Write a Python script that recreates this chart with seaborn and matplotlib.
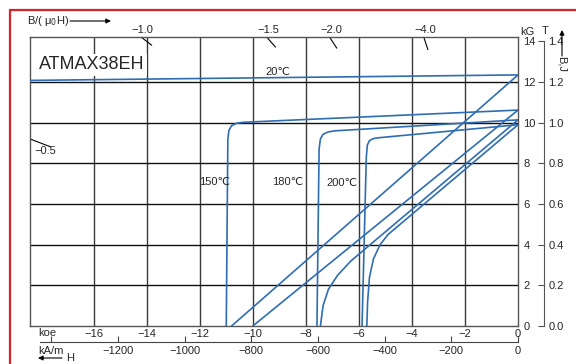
import matplotlib
matplotlib.use("Agg")
import numpy as np
import pandas as pd
import matplotlib.pyplot as plt
import seaborn as sns
from matplotlib.lines import Line2D

# ---- data (H in kOe, B/J in kG) ----
h_ticks = [-16, -14, -12, -10, -8, -6, -4, -2, 0]
b_ticks = [0, 2, 4, 6, 8, 10, 12, 14]
t_ticks = [0.0, 0.2, 0.4, 0.6, 0.8, 1.0, 1.2, 1.4]
kam_ticks = [-1400, -1200, -1000, -800, -600, -400, -200, 0]
permeance_top = [1.0, 1.5, 2.0, 4.0]
permeance_left = [0.5]

# 20 C
h_20_j = [-18.4, 0.0]
b_20_j = [12.08, 12.35]
h_20_b = [-10.8, 0.0]
b_20_b = [0.0, 12.35]
# 150 C
h_150_j = [-11.0, -10.94, -10.9, -10.8, -10.62, -10.36, 0.0]
b_150_j = [0.0, 9.2, 9.62, 9.85, 9.97, 10.02, 10.62]
h_150_b = [-10.0, 0.0]
b_150_b = [0.0, 10.62]
# 180 C
h_180_j = [-7.58, -7.5, -7.45, -7.35, -7.15, -6.9, 0.0]
b_180_j = [0.0, 8.7, 9.2, 9.43, 9.55, 9.6, 10.14]
h_180_b = [-7.45, -7.35, -7.15, -6.8, -6.3, 0.0]
b_180_b = [0.0, 1.0, 1.8, 2.5, 3.2, 10.14]
# 200 C
h_200_j = [-5.88, -5.72, -5.68, -5.6, -5.45, -5.25, 0.0]
b_200_j = [0.0, 8.3, 8.9, 9.12, 9.22, 9.26, 9.9]
h_200_b = [-5.7, -5.67, -5.6, -5.45, -5.2, -4.9, 0.0]
b_200_b = [0.0, 1.2, 2.4, 3.3, 4.0, 4.5, 9.9]

curves = {
    "20J": (h_20_j, b_20_j), "20B": (h_20_b, b_20_b),
    "150J": (h_150_j, b_150_j), "150B": (h_150_b, b_150_b),
    "180J": (h_180_j, b_180_j), "180B": (h_180_b, b_180_b),
    "200J": (h_200_j, b_200_j), "200B": (h_200_b, b_200_b),
}
df = pd.concat([pd.DataFrame({"H": h, "B": b, "curve": k})
                for k, (h, b) in curves.items()], ignore_index=True)

# ---- style ----
sns.set_style("white")
plt.rcParams["font.family"] = ["Liberation Sans", "DejaVu Sans"]
plt.rcParams["axes.unicode_minus"] = True

W, H = 576, 364
def fx(x):
    return x / W
def fy(y):
    return 1 - y / H

blue = "#2f6db3"
grid_c = "#3a3a3a"
XMIN, YMAX = -18.4, 14.2

fig = plt.figure(figsize=(W / 100, H / 100), dpi=100)
ax_l, ax_r, ax_t, ax_b = 30, 518, 37.3, 326
ax = fig.add_axes([fx(ax_l), fy(ax_b), (ax_r - ax_l) / W, (ax_b - ax_t) / H])

for h in h_ticks[:-1]:
    ax.axvline(h, color=grid_c, lw=1.0, zorder=1)
for b in b_ticks[1:-1]:
    ax.axhline(b, color="#111111", lw=1.0, zorder=1)

sns.lineplot(data=df, x="H", y="B", units="curve", estimator=None, sort=False,
             color=blue, lw=1.2, ax=ax, zorder=3)

ax.set_xlim(XMIN, 0)
ax.set_ylim(0, YMAX)
ax.set_xlabel("")
ax.set_ylabel("")
for s in ax.spines.values():
    s.set_color("#555555")
    s.set_linewidth(1.0)

ax.set_xticks(h_ticks)
ax.tick_params(axis="x", length=0, pad=2, labelsize=8)

# T axis
ax2 = ax.twinx()
ax2.set_ylim(0, YMAX / 10)
for k in ["left", "top", "bottom"]:
    ax2.spines[k].set_visible(False)
ax2.spines["right"].set_position(("outward", 19))
ax2.spines["right"].set_bounds(0, 1.4)
ax2.spines["right"].set_color("#555555")
ax2.set_yticks(t_ticks)
ax2.set_yticklabels([f"{t:.1f}" for t in t_ticks])
ax2.tick_params(axis="y", direction="in", length=4, pad=3, labelsize=8, color="#555555")

ax.yaxis.tick_right()
ax.set_yticks(b_ticks)
ax.tick_params(axis="y", length=0, pad=4, labelsize=8, labelleft=False, labelright=True)

# kA/m axis
sec = ax.secondary_xaxis(-(342 - ax_b) / (ax_b - ax_t),
                         functions=(lambda h: h * 79.577, lambda k: k / 79.577))
sec.set_xticks(kam_ticks)
sec.set_xticklabels(["" if v == -1400 else str(v).replace("-", "\u2212") for v in kam_ticks])
sec.tick_params(direction="in", length=4, pad=3, labelsize=8, color="#444444")
sec.spines["bottom"].set_color("#444444")
sec.spines["bottom"].set_bounds(-1434, 0)

# permeance marks
ppx = (ax_r - ax_l) / -XMIN
ppy = (ax_b - ax_t) / YMAX
for p in permeance_top:
    h0 = -YMAX / p
    d = 13 / np.hypot(ppx, p * ppy)
    ax.plot([h0, h0 + d], [YMAX, YMAX - p * d], color="black", lw=0.8, clip_on=False)
    ax.annotate(f"\u2212{p:.1f}", (h0, YMAX), xytext=(1, 1.5), textcoords="offset points",
                ha="center", va="bottom", fontsize=8)
for p in permeance_left:
    b0 = -p * XMIN
    d = 22 / np.hypot(ppx, p * ppy)
    ax.plot([XMIN, XMIN + d], [b0, b0 - p * d], color="black", lw=0.8)
    ax.annotate(f"\u2212{p:.1f}", (XMIN, b0), xytext=(11, -9), textcoords="offset points",
                ha="center", va="center", fontsize=8)

# labels
ax.text(XMIN + 0.35, 12.85, "ATMAX38EH", fontsize=13, va="center", ha="left",
        bbox=dict(facecolor="white", edgecolor="none", pad=2), zorder=4)
for t, h, b in [("20\u2103", -9.05, 12.49), ("150\u2103", -11.45, 7.1),
                ("180\u2103", -8.69, 7.1), ("200\u2103", -6.64, 7.02)]:
    ax.text(h, b, t, fontsize=8, ha="center", va="center", zorder=4)

fig.text(fx(527), fy(32), "kG", fontsize=8, ha="center", va="center")
fig.text(fx(545), fy(31), "T", fontsize=8, ha="center", va="center")
fig.text(fx(27), fy(21), r"B/( μ$_{\rm 0}$H)", fontsize=8, ha="left", va="center")
fig.text(fx(38), fy(333), "koe", fontsize=8, ha="left", va="center")
fig.text(fx(38), fy(351), "kA/m", fontsize=8, ha="left", va="center")
fig.text(fx(66), fy(358), "H", fontsize=8, ha="left", va="center")
fig.text(fx(562), fy(64), "B,J", fontsize=8, ha="center", va="center", rotation=-90)

arrow = dict(arrowstyle="-|>", lw=0.8, color="black", mutation_scale=7, shrinkA=0, shrinkB=0)
fig.add_artist(matplotlib.patches.FancyArrowPatch((fx(70), fy(21)), (fx(111), fy(21)),
               transform=fig.transFigure, **arrow))
fig.add_artist(matplotlib.patches.FancyArrowPatch((fx(62), fy(358)), (fx(38), fy(358)),
               transform=fig.transFigure, **arrow))
fig.add_artist(matplotlib.patches.FancyArrowPatch((fx(562), fy(56)), (fx(562), fy(30)),
               transform=fig.transFigure, **arrow))

# red frame
red = "#d8232a"
fig.add_artist(Line2D([fx(9.5), fx(9.5)], [0, fy(10)], color=red, lw=1.6))
fig.add_artist(Line2D([fx(9.5), 1], [fy(10), fy(10)], color=red, lw=1.6))

fig.savefig("out.png", dpi=100)
